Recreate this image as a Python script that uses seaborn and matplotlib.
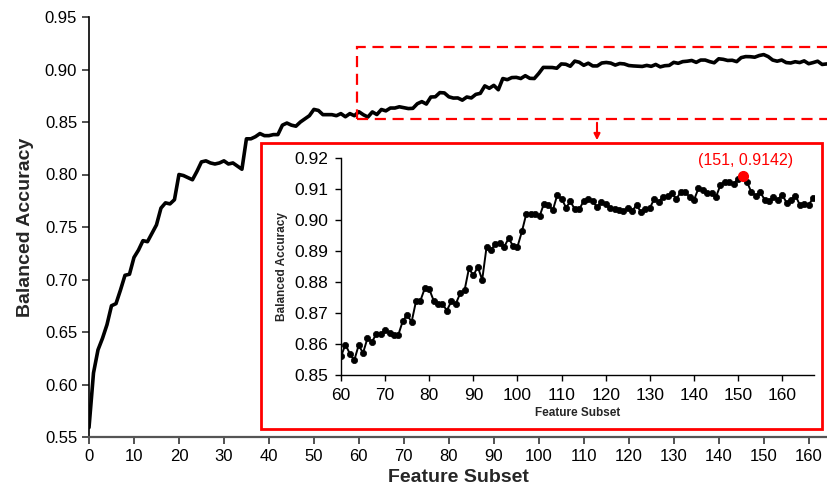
import numpy as np
import pandas as pd
import matplotlib
matplotlib.use("Agg")
import matplotlib.pyplot as plt
from matplotlib.patches import Rectangle, FancyArrowPatch
import seaborn as sns

# ---------------- data ----------------
subsets = list(range(1, 168))
acc_head = [0.559, 0.611, 0.633, 0.644, 0.657, 0.675, 0.677, 0.690, 0.704, 0.705,
            0.721, 0.728, 0.737, 0.736, 0.744, 0.752, 0.768, 0.773, 0.772, 0.776,
            0.800, 0.799, 0.797, 0.795, 0.803, 0.812, 0.813, 0.811, 0.810, 0.811,
            0.813, 0.810, 0.811, 0.808, 0.805, 0.834, 0.834, 0.836, 0.839, 0.837,
            0.837, 0.838, 0.838, 0.847, 0.849, 0.847, 0.846, 0.850, 0.853, 0.856,
            0.862, 0.861, 0.857, 0.857, 0.857, 0.856, 0.858, 0.855, 0.858]
acc_tail = [0.8560, 0.8598, 0.8569, 0.8547, 0.8596, 0.8571, 0.8619, 0.8606, 0.8633, 0.8633,
            0.8645, 0.8636, 0.8628, 0.8630, 0.8674, 0.8694, 0.8671, 0.8738, 0.8740, 0.8780,
            0.8777, 0.8740, 0.8728, 0.8729, 0.8708, 0.8738, 0.8729, 0.8763, 0.8773, 0.8844,
            0.8821, 0.8849, 0.8807, 0.8914, 0.8903, 0.8923, 0.8925, 0.8914, 0.8941, 0.8916,
            0.8914, 0.8963, 0.9020, 0.9020, 0.9019, 0.9012, 0.9053, 0.9050, 0.9031, 0.9080,
            0.9069, 0.9040, 0.9060, 0.9034, 0.9034, 0.9062, 0.9067, 0.9061, 0.9042, 0.9057,
            0.9053, 0.9038, 0.9034, 0.9032, 0.9029, 0.9039, 0.9030, 0.9048, 0.9025, 0.9036,
            0.9039, 0.9068, 0.9059, 0.9075, 0.9079, 0.9086, 0.9068, 0.9090, 0.9090, 0.9075,
            0.9064, 0.9102, 0.9097, 0.9086, 0.9088, 0.9075, 0.9113, 0.9123, 0.9122, 0.9117,
            0.9133, 0.9142, 0.9123, 0.9090, 0.9079, 0.9090, 0.9066, 0.9062, 0.9074, 0.9066,
            0.9082, 0.9055, 0.9066, 0.9079, 0.9048, 0.9053, 0.9049, 0.9071]
accuracy = acc_head + acc_tail

main_xticks = list(range(0, 161, 10))
main_yticks = [0.55, 0.60, 0.65, 0.70, 0.75, 0.80, 0.85, 0.90, 0.95]
inset_xticks = list(range(60, 161, 10))
inset_yticks = [0.85, 0.86, 0.87, 0.88, 0.89, 0.90, 0.91, 0.92]
zoom_start = 60

df = pd.DataFrame({"subset": subsets, "acc": accuracy})
df["idx"] = np.arange(len(df))
df_zoom = df[df["subset"] >= zoom_start]
best = df.loc[df["acc"].idxmax()]

# ---------------- style ----------------
sns.set_style("ticks")
plt.rcParams["font.family"] = ["Liberation Sans", "DejaVu Sans"]
plt.rcParams["xtick.direction"] = "out"
plt.rcParams["ytick.direction"] = "out"

fig = plt.figure(figsize=(8.28, 4.93), dpi=100)
ax = fig.add_axes([89 / 828, 56 / 493, (828 - 89) / 828, 420 / 493])

sns.lineplot(data=df, x="idx", y="acc", ax=ax, color="black", linewidth=2.6)
ax.set_xlim(0, 164.3)
ax.set_ylim(0.55, 0.95)
ax.set_xticks(main_xticks)
ax.set_yticks(main_yticks)
ax.set_yticklabels([f"{v:.2f}" for v in main_yticks])
ax.tick_params(axis="both", labelsize=12, length=5, width=1.2, colors="#333333",
               labelcolor="black")
for s in ["top", "right"]:
    ax.spines[s].set_visible(False)
ax.spines["left"].set_color("black")
ax.spines["left"].set_linewidth(1.2)
ax.spines["bottom"].set_color("#555555")
ax.spines["bottom"].set_linewidth(1.6)
ax.set_xlabel("Feature Subset", fontsize=14, fontweight="bold", labelpad=4)
ax.set_ylabel("Balanced Accuracy", fontsize=14, fontweight="bold", labelpad=8)

# dashed zoom box in main axes
ax.add_patch(Rectangle((59.6, 0.853), 112, 0.068, fill=False, edgecolor="red",
                       linestyle=(0, (5, 3)), linewidth=1.6, clip_on=False, zorder=5))

# inset frame (solid red) and arrow
fig.patches.append(Rectangle((261 / 828, (493 - 429) / 493), (822 - 261) / 828,
                             (429 - 143) / 493, transform=fig.transFigure, fill=False,
                             edgecolor="red", linewidth=2.0, zorder=5))
fig.patches.append(FancyArrowPatch((597 / 828, (493 - 120) / 493),
                                   (597 / 828, (493 - 143) / 493),
                                   transform=fig.transFigure, color="red",
                                   arrowstyle="-|>", mutation_scale=9, linewidth=1.5))

# inset
axi = fig.add_axes([341 / 828, (493 - 375) / 493, (814 - 341) / 828, (375 - 158) / 493])
sns.lineplot(data=df_zoom, x="subset", y="acc", ax=axi, color="black", linewidth=1.4,
             marker="o", markersize=4.5, markeredgecolor="black", markeredgewidth=0.5)
axi.plot([best["subset"]], [best["acc"]], "o", color="red", markersize=7, zorder=6)
axi.annotate(f"({int(best['subset'])}, {best['acc']:.4f})",
             (best["subset"], best["acc"]), xytext=(2, 6), textcoords="offset points",
             ha="center", va="bottom", color="red", fontsize=11.5)
axi.set_xlim(60, 167.2)
axi.set_ylim(0.85, 0.92)
axi.set_xticks(inset_xticks)
axi.set_yticks(inset_yticks)
axi.set_yticklabels([f"{v:.2f}" for v in inset_yticks])
axi.tick_params(axis="both", labelsize=12.5, length=4, width=1, colors="black", pad=5)
for s in ["top", "right"]:
    axi.spines[s].set_visible(False)
for s in ["left", "bottom"]:
    axi.spines[s].set_color("black")
    axi.spines[s].set_linewidth(1.0)
axi.set_facecolor("none")
axi.set_xlabel("Feature Subset", fontsize=8.5, fontweight="bold", labelpad=3)
axi.set_ylabel("Balanced Accuracy", fontsize=8.5, fontweight="bold", labelpad=5)

fig.savefig("out.png", dpi=100)
